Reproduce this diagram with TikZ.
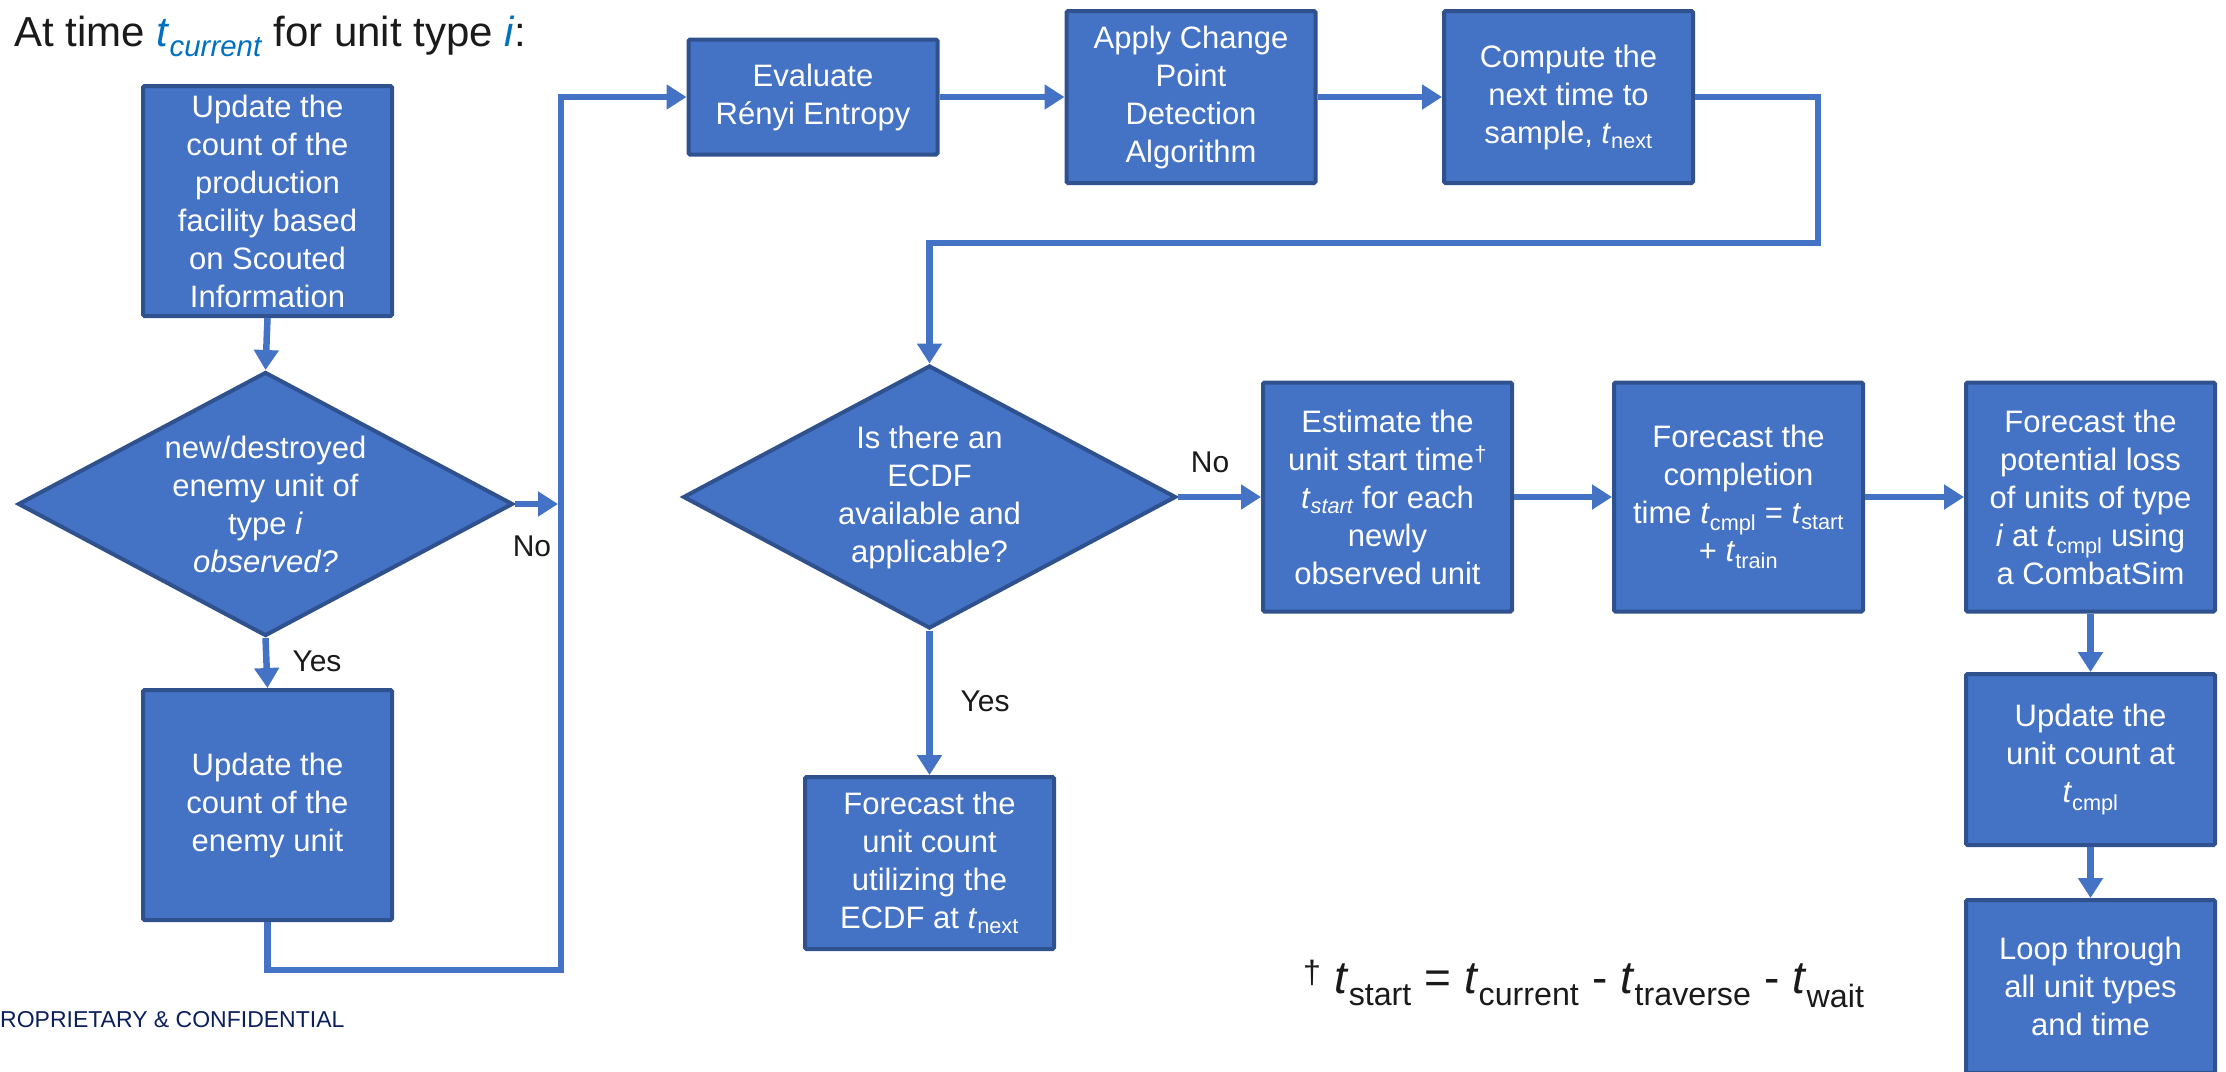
\documentclass[tikz,border=0pt]{standalone}
\usepackage{fontspec}
\setmainfont{Liberation Sans}
\usetikzlibrary{shapes.geometric,arrows.meta}
\definecolor{boxfill}{HTML}{4472C4}
\definecolor{boxline}{HTML}{2F528F}
\definecolor{titleblue}{HTML}{0070C0}
\definecolor{navy}{HTML}{0B1F5C}
\definecolor{ink}{HTML}{1A1A1A}
\begin{document}
\begin{tikzpicture}[x=1pt,y=-1pt,
  box/.style={draw=boxline, line width=4pt, fill=boxfill, text=white, align=center,
    minimum width=249pt, inner sep=0pt, rounded corners=1.5pt,
    font=\fontsize{31}{38}\selectfont},
  dia/.style={shape=diamond, draw=boxline, line width=4pt, fill=boxfill, text=white,
    align=center, inner sep=0pt, aspect=1.87, font=\fontsize{31}{38}\selectfont},
  conn/.style={draw=boxfill, line width=6.5pt},
  arr/.style={conn, -{Triangle[length=20pt,width=24pt]}},
  lbl/.style={text=ink, font=\fontsize{30}{36}\selectfont, inner sep=0pt},
  plain/.style={anchor=base west, inner sep=0pt, text=ink}
]
\useasboundingbox (0,0) rectangle (2226,1071);
\clip (0,0) rectangle (2226,1071);

% title
\node[plain, font=\fontsize{42}{50}\selectfont] (title) at (14,46)
  {At time \textcolor{titleblue}{\textit{t}\textsubscript{\itshape current}} for unit type \textcolor{titleblue}{\textit{i}}:};

% left column
\node[box, minimum height=230pt] (upfac) at (267.5,201)
  {Update the\\count of the\\production\\facility based\\on Scouted\\Information};
\node[dia, minimum width=495pt, minimum height=264pt] (q1) at (265.5,504)
  {new/destroyed\\enemy unit of\\type \textit{i}\\\textit{observed?}};
\node[box, minimum height=230pt] (upen) at (267.5,805)
  {Update the\\count of the\\enemy unit};

% top row
\node[box, minimum height=115pt] (eval) at (813,97)
  {Evaluate\\Rényi Entropy};
\node[box, minimum height=172pt] (cpd) at (1191,97)
  {Apply Change\\Point\\Detection\\Algorithm};
\node[box, minimum height=172pt] (next) at (1568.5,97)
  {Compute the\\next time to\\sample, \textit{t}\textsubscript{next}};

% middle
\node[dia, minimum width=493pt, minimum height=263pt] (q2) at (929.5,497)
  {Is there an\\ECDF\\available and\\applicable?};
\node[box, minimum height=172pt] (ecdf) at (929.5,863)
  {Forecast the\\unit count\\utilizing the\\ECDF at \textit{t}\textsubscript{next}};
\node[box, minimum height=229pt] (est) at (1387.5,497)
  {Estimate the\\unit start time\textsuperscript{†}\\\textit{t}\textsubscript{\itshape start} for each\\newly\\observed unit};
\node[box, minimum height=229pt] (cmpl) at (1738.5,497)
  {Forecast the\\completion\\time \textit{t}\textsubscript{cmpl} = \textit{t}\textsubscript{start}\\+ \textit{t}\textsubscript{train}};
\node[box, minimum height=229pt] (loss) at (2090.5,497)
  {Forecast the\\potential loss\\of units of type\\\textit{i} at \textit{t}\textsubscript{cmpl} using\\a CombatSim};
\node[box, minimum height=171pt] (upcnt) at (2090.5,759.5)
  {Update the\\unit count at\\\textit{t}\textsubscript{cmpl}};
\node[box, minimum height=173pt] (loop) at (2090.5,986.5)
  {Loop through\\all unit types\\and time};

% labels
\node[lbl] (no1) at (532,546) {No};
\node[lbl] (yes1) at (317,661) {Yes};
\node[lbl] (no2) at (1210,462) {No};
\node[lbl] (yes2) at (985,701) {Yes};

% footnote and footer
\node[plain, font=\fontsize{46}{55}\selectfont] (foot) at (1303,993)
  {\textsuperscript{†} \textit{t}\textsubscript{start} = \textit{t}\textsubscript{current} - \textit{t}\textsubscript{traverse} - \textit{t}\textsubscript{wait}};
\node[plain, text=navy, font=\fontsize{23}{28}\selectfont] (prop) at (0,1027)
  {ROPRIETARY \& CONFIDENTIAL};

% connectors
\coordinate (c2) at (561,970);
\coordinate (c3) at (561,97);
\coordinate (c4) at (1818,243);

\draw[arr] (upfac.south) -- (q1.north);
\draw[arr] (q1.south) -- (upen.north);
\draw[arr] (upen.south) |- (c2) -- (c3) -- (eval.west);
\draw[arr, shorten >=3pt] (q1.east) -- (q1.east -| c2);
\draw[arr] (eval.east) -- (cpd.west);
\draw[arr] (cpd.east) -- (next.west);
\draw[arr] (next.east) -| (c4) -- (c4 -| q2.north) -- (q2.north);
\draw[arr] (q2.east) -- (est.west);
\draw[arr] (q2.south) -- (ecdf.north);
\draw[arr] (est.east) -- (cmpl.west);
\draw[arr] (cmpl.east) -- (loss.west);
\draw[arr] (loss.south) -- (upcnt.north);
\draw[arr] (upcnt.south) -- (loop.north);
\end{tikzpicture}
\end{document}
